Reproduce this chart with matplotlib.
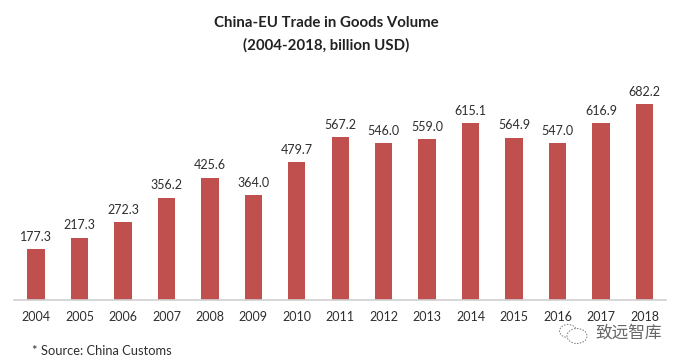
import matplotlib
matplotlib.use('Agg')
import matplotlib.pyplot as plt
from matplotlib.patches import Ellipse

plt.rcParams['font.family'] = ['Lato', 'DejaVu Sans']

YEARS = ['2004', '2005', '2006', '2007', '2008', '2009', '2010', '2011',
         '2012', '2013', '2014', '2015', '2016', '2017', '2018']
VALUES = [177.3, 217.3, 272.3, 356.2, 425.6, 364.0, 479.7, 567.2,
          546.0, 559.0, 615.1, 564.9, 547.0, 616.9, 682.2]
BAR_COLOR = '#C0504D'
TEXT_COLOR = '#2e2e2e'

W, H = 683, 363
fig = plt.figure(figsize=(W / 100, H / 100), dpi=100)
# axes box in pixels: baseline at y=300, x from 14 to 666
ax = fig.add_axes([14.3 / W, 1 - 300 / H, 651.9 / W, 300 / H])

x = list(range(len(YEARS)))
ax.bar(x, VALUES, width=0.40, color=BAR_COLOR)
for i, v in zip(x, VALUES):
    ax.annotate('%.1f' % v, (i, v), xytext=(0, 4.5), textcoords='offset points',
                ha='center', va='bottom', fontsize=9, color=TEXT_COLOR)

ax.set_xlim(-0.5, len(YEARS) - 0.5)
ax.set_ylim(0, 682.2 * 300 / 196)
ax.set_xticks(x)
ax.set_xticklabels(YEARS, fontsize=9, color=TEXT_COLOR)
ax.tick_params(axis='x', length=0, pad=8)
ax.set_yticks([])
for side in ['top', 'left', 'right']:
    ax.spines[side].set_visible(False)
ax.spines['bottom'].set_color('#d0d0d0')
ax.spines['bottom'].set_linewidth(1.2)
ax.patch.set_alpha(0)

fig.text(326 / W, 1 - 23 / H, 'China-EU Trade in Goods Volume', ha='center', va='center',
         fontsize=10.8, fontweight='bold', color='#222222')
fig.text(326 / W, 1 - 45 / H, '(2004-2018, billion USD)', ha='center', va='center',
         fontsize=10.8, fontweight='bold', color='#222222')
fig.text(32 / W, 1 - 351 / H, '* Source: China Customs', ha='left', va='center',
         fontsize=9.3, color=TEXT_COLOR)

# watermark: two dotted chat bubbles and the account name
for cx, cy, w, h in [(568, 331, 17, 13), (577, 336, 20, 15)]:
    fig.add_artist(Ellipse((cx / W, 1 - cy / H), w / W, h / H, transform=fig.transFigure,
                           facecolor='white', edgecolor='#777777', linewidth=0.7,
                           linestyle=(0, (1.5, 1.5))))
fig.text(595 / W, 1 - 333 / H, '致远智库', ha='left', va='center', fontsize=12,
         color='#666666', family=['Noto Sans CJK SC', 'DejaVu Sans'])

fig.savefig('out.png', dpi=100)
